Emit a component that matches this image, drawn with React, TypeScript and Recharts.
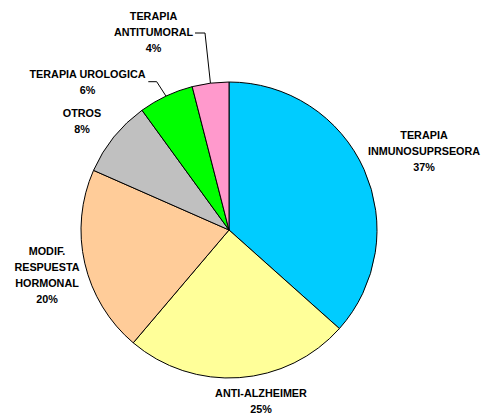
import { PieChart, Pie, Cell } from "recharts";

const categories = [
  "TERAPIA INMUNOSUPRSEORA",
  "ANTI-ALZHEIMER",
  "MODIF. RESPUESTA HORMONAL",
  "OTROS",
  "TERAPIA UROLOGICA",
  "TERAPIA ANTITUMORAL",
];
const labelLines = [
  ["TERAPIA", "INMUNOSUPRSEORA"],
  ["ANTI-ALZHEIMER"],
  ["MODIF.", "RESPUESTA", "HORMONAL"],
  ["OTROS"],
  ["TERAPIA UROLOGICA"],
  ["TERAPIA", "ANTITUMORAL"],
];
const values = [36.6, 24.6, 20.4, 8.4, 6.0, 4.0];
const colors = ["#00CCFF", "#FFFF99", "#FFCC99", "#C0C0C0", "#00FF00", "#FF99CC"];

// label placement relative to pie centre (first line centre)
const labelPos = [
  [195, -95],
  [32, 163],
  [-182, 21],
  [-147, -117],
  [-141.5, -156],
  [-75.5, -214],
];
// leader lines: [start, elbow] relative to centre, ends on slice edge
const leaders: Record<number, number[][]> = {
  4: [[-80.7, -148.3], [-72.3, -148.3]],
  5: [[-34, -197], [-24, -197]],
};

const data = categories.map((name, i) => ({ name, value: values[i] }));
const total = values.reduce((a, b) => a + b, 0);

const LINE_H = 16;
const RAD = Math.PI / 180;

const renderLabel = (props: any) => {
  const { cx, cy, midAngle, outerRadius, index, value } = props;
  const [dx, dy] = labelPos[index];
  const lines = [...labelLines[index], `${Math.round((value / total) * 100)}%`];
  const lead = leaders[index];
  let path = null;
  if (lead) {
    const ex = cx + Math.cos(-midAngle * RAD) * outerRadius;
    const ey = cy + Math.sin(-midAngle * RAD) * outerRadius;
    const pts = [
      [cx + lead[0][0], cy + lead[0][1]],
      [cx + lead[1][0], cy + lead[1][1]],
      [ex, ey],
    ];
    path = (
      <polyline
        points={pts.map((p) => p.join(",")).join(" ")}
        fill="none"
        stroke="#000"
        strokeWidth={1}
      />
    );
  }
  return (
    <g key={`lbl-${index}`}>
      {path}
      <text
        x={cx + dx}
        y={cy + dy}
        textAnchor="middle"
        fill="#000"
        fontSize={10.8}
        fontWeight="bold"
        fontFamily="'Liberation Sans', Arial, sans-serif"
      >
        {lines.map((l, i) => (
          <tspan key={i} x={cx + dx} y={cy + dy + i * LINE_H} dominantBaseline="central">
            {l}
          </tspan>
        ))}
      </text>
    </g>
  );
};

export default function App() {
  return (
    <div style={{ position: "absolute", left: 0, top: 0, background: "#fff" }}>
      <PieChart width={485} height={414} margin={{ top: 0, right: 0, bottom: 0, left: 0 }}>
        <Pie
          data={data}
          dataKey="value"
          nameKey="name"
          cx={229}
          cy={230}
          outerRadius={148}
          startAngle={90}
          endAngle={-270}
          stroke="#000"
          strokeWidth={1}
          label={renderLabel}
          labelLine={false}
          isAnimationActive={false}
        >
          {data.map((d, i) => (
            <Cell key={d.name} fill={colors[i]} />
          ))}
        </Pie>
      </PieChart>
    </div>
  );
}
